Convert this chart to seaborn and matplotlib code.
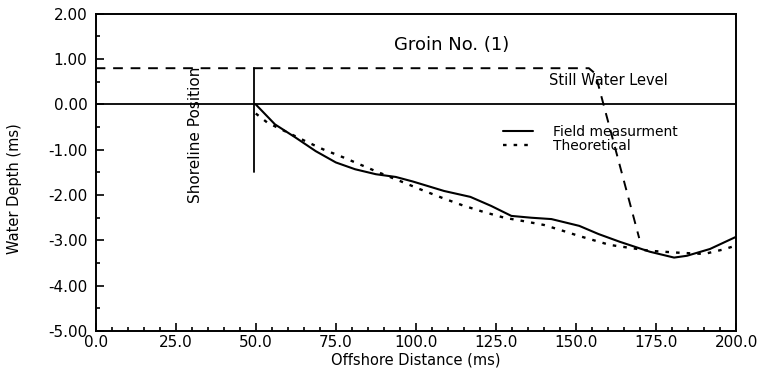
import pandas as pd
import seaborn as sns
import matplotlib
matplotlib.use("Agg")
import matplotlib.pyplot as plt
from matplotlib.ticker import MultipleLocator, FormatStrFormatter

# Field measurement profile: offshore distance vs water depth
field_x = [50.0, 56.0, 62.4, 68.7, 75.0, 81.0, 87.5, 93.7, 99.0, 108.8, 117.0,
           123.5, 129.8, 136.0, 142.3, 151.0, 157.0, 163.6, 173.0, 180.6, 184.6,
           191.8, 199.7]
field_y = [0.00, -0.44, -0.73, -1.03, -1.28, -1.43, -1.54, -1.60, -1.70, -1.91, -2.04,
           -2.24, -2.46, -2.50, -2.53, -2.68, -2.86, -3.03, -3.25, -3.38, -3.34,
           -3.19, -2.93]

# Theoretical profile
theo_x = [50.0, 53.6, 65.5, 71.0, 77.4, 83.7, 88.0, 94.0, 101.6, 108.5, 114.7,
          121.0, 127.6, 134.0, 140.0, 145.5, 150.8, 160.5, 173.0, 181.5, 190.0,
          196.0, 199.7]
theo_y = [-0.20, -0.40, -0.81, -0.99, -1.17, -1.36, -1.49, -1.66, -1.88, -2.07, -2.23,
          -2.37, -2.50, -2.58, -2.66, -2.78, -2.90, -3.10, -3.23, -3.27, -3.30,
          -3.20, -3.12]

# Still water level guide and shoreline marker
swl_x = [0.0, 154.0, 156.0, 169.7]
swl_y = [0.80, 0.80, 0.68, -2.95]
shore_x = [49.5, 49.5]
shore_y = [0.80, -1.50]
zero_x = [0.0, 200.0]
zero_y = [0.0, 0.0]

sns.set_style("ticks")
plt.rcParams['font.family'] = ['DejaVu Sans']
plt.rcParams['axes.unicode_minus'] = False
plt.rcParams['text.color'] = 'black'
plt.rcParams['axes.labelcolor'] = 'black'

fig = plt.figure(figsize=(7.59, 3.74), dpi=100)
ax = fig.add_axes([0.126, 0.115, 0.844, 0.848])

sns.lineplot(x=zero_x, y=zero_y, ax=ax, color='black', lw=1.3,
             estimator=None, sort=False)
sns.lineplot(x=shore_x, y=shore_y, ax=ax, color='black', lw=1.3,
             estimator=None, sort=False)
sns.lineplot(x=swl_x, y=swl_y, ax=ax, color='black', lw=1.4,
             estimator=None, sort=False, linestyle=(0, (5, 4)))
sns.lineplot(x=field_x, y=field_y, ax=ax, color='black', lw=1.5,
             estimator=None, sort=False, label='Field measurment')
sns.lineplot(x=theo_x, y=theo_y, ax=ax, color='black', lw=1.7,
             estimator=None, sort=False, linestyle=(0, (1.5, 3)),
             label='Theoretical')

ax.set_xlim(0, 200)
ax.set_ylim(-5, 2)
ax.xaxis.set_major_locator(MultipleLocator(25))
ax.xaxis.set_minor_locator(MultipleLocator(5))
ax.yaxis.set_major_locator(MultipleLocator(1))
ax.yaxis.set_minor_locator(MultipleLocator(0.5))
ax.xaxis.set_major_formatter(FormatStrFormatter('%.1f'))
ax.yaxis.set_major_formatter(FormatStrFormatter('%.2f'))
ax.tick_params(which='both', direction='in', color='black', width=1.2,
               labelsize=11, labelcolor='black')
ax.tick_params(which='major', length=6)
ax.tick_params(which='minor', length=3)
ax.tick_params(axis='y', pad=6)
ax.tick_params(axis='x', pad=3)
for s in ax.spines.values():
    s.set_color('black')
    s.set_linewidth(1.4)

ax.set_xlabel('Offshore Distance (ms)', fontsize=10.5, labelpad=2)
ax.set_ylabel('Water Depth (ms)', fontsize=10.5)
ax.yaxis.set_label_coords(-0.115, 0.45)

ax.text(111, 1.32, 'Groin No. (1)', fontsize=13, ha='center', va='center')
ax.text(160, 0.52, 'Still Water Level', fontsize=10.5, ha='center', va='center')
ax.text(31.3, -0.66, 'Shoreline Position', fontsize=11, rotation=90,
        ha='center', va='center')

ax.legend(loc='upper left', bbox_to_anchor=(0.62, 0.68), frameon=False,
          fontsize=10, handlelength=2.2, labelspacing=0.0, borderpad=0.2,
          handletextpad=1.4)

fig.savefig('out.png', dpi=100)
